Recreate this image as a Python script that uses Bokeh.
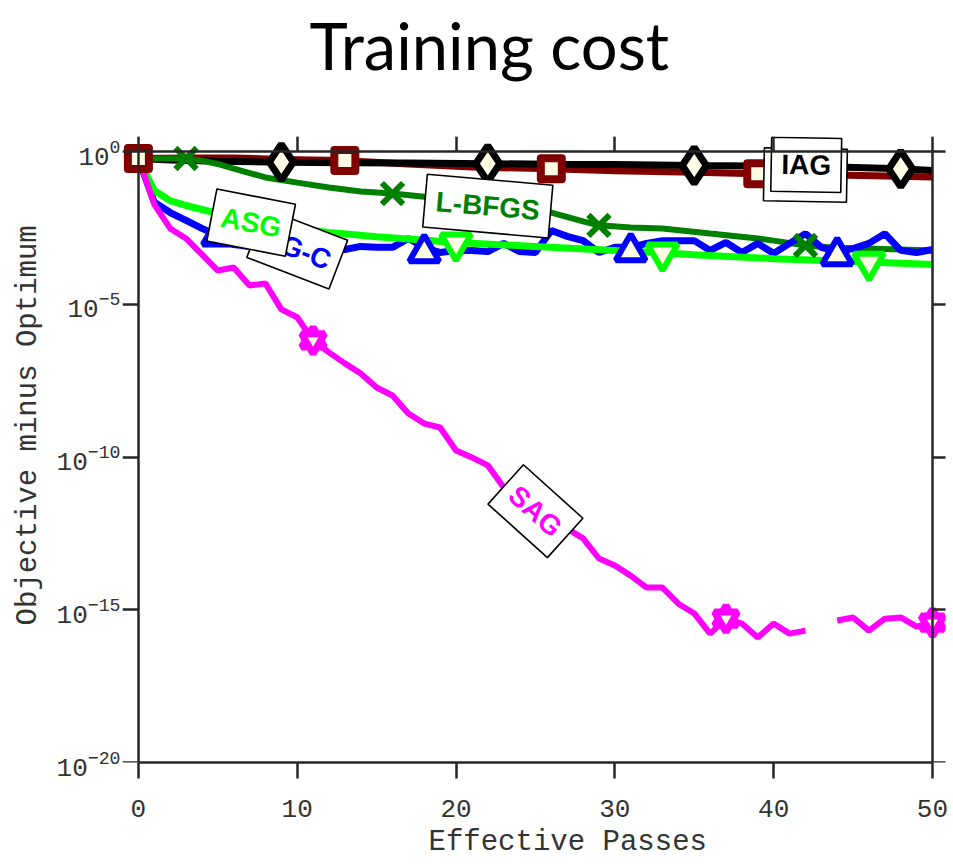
import numpy as np
from bokeh.plotting import figure
from bokeh.models import (Range1d, LinearAxis, LogAxis, FixedTicker, Title,
                          ColumnDataSource, CustomJSTickFormatter)
from bokeh.core.properties import value
from bokeh.embed import file_html
from bokeh.resources import INLINE

# ---------------- data (log10 of objective minus optimum) ----------------
passes = list(range(51))

sag_log = [-0.19, -1.72, -2.51, -2.84, -3.36, -3.89, -3.79, -4.38, -4.31, -5.16,
           -5.42, -6.18, -6.57, -6.93, -7.26, -7.72, -7.98, -8.57, -8.90, -9.03,
           -9.78, -10.01, -10.27, -10.99, -11.42, -11.75, -12.08, -12.34, -12.66, -13.32,
           -13.55, -13.88, -14.27, -14.27, -14.80, -15.12, -15.78, -15.29, -15.45, -15.91,
           -15.45, -15.78, -15.68, np.nan, -15.35, -15.25, -15.68, -15.29, -15.25, -15.55,
           -15.42]

sgc_log = [-0.22, -1.65, -1.99, -2.25, -2.51, -2.74, -3.04, -3.10, -3.13, -3.17,
           -3.20, -3.17, -3.20, -3.20, -3.10, -3.13, -3.13, -2.84, -3.13, -3.30,
           -3.23, -3.23, -3.27, -3.00, -3.27, -3.30, -2.58, -2.77, -2.91, -3.30,
           -3.13, -3.13, -3.00, -2.91, -2.91, -2.91, -3.23, -2.97, -3.30, -3.00,
           -3.33, -3.00, -2.68, -3.13, -3.27, -3.17, -3.00, -2.68, -3.23, -3.30,
           -3.20]

asg_x = [0, 1, 2, 3, 4, 5, 6, 7, 8, 10, 12, 15, 20, 25, 30, 33, 35, 40, 46, 50]
asg_log = [-0.22, -1.27, -1.60, -1.76, -1.89, -2.02, -2.15, -2.25, -2.35, -2.51,
           -2.64, -2.78, -2.97, -3.10, -3.23, -3.31, -3.37, -3.50, -3.61, -3.69]

lbfgs_x = [0, 3, 4, 5, 6, 8, 10, 12, 14, 16, 18, 20, 22, 24, 26, 28, 29, 31, 33,
           36, 39, 40, 42, 44, 48, 50]
lbfgs_log = [-0.22, -0.22, -0.29, -0.40, -0.55, -0.84, -1.01, -1.17, -1.30, -1.37,
             -1.47, -1.60, -1.73, -1.86, -1.99, -2.28, -2.41, -2.48, -2.51,
             -2.68, -2.84, -2.91, -3.07, -3.14, -3.20, -3.23]

iag_x = [0, 2, 5, 9, 13, 17, 22, 26, 30, 35, 39, 44, 48, 50]
iag_log = [-0.22, -0.27, -0.31, -0.34, -0.36, -0.37, -0.39, -0.41, -0.42, -0.45,
           -0.47, -0.50, -0.56, -0.61]

afg_x = [0, 3, 6, 9, 13, 17, 21, 26, 30, 35, 39, 44, 50]
afg_log = [-0.22, -0.20, -0.20, -0.25, -0.29, -0.40, -0.50, -0.56, -0.62, -0.67,
           -0.72, -0.76, -0.83]

# marker positions
afg_mk_x, afg_mk_log = [0, 13, 26, 39], [-0.22, -0.29, -0.56, -0.72]
lbfgs_mk_x, lbfgs_mk_log = [3, 16, 29, 42], [-0.22, -1.37, -2.41, -3.07]
sgc_mk_x, sgc_mk_log = [5, 18, 31, 44], [-2.75, -3.30, -3.27, -3.40]
asg_mk_x, asg_mk_log = [7, 20, 33, 46], [-2.25, -2.99, -3.32, -3.62]
iag_mk_x, iag_mk_log = [9, 22, 35, 48], [-0.34, -0.39, -0.45, -0.56]
sag_mk_x, sag_mk_log = [11, 24, 37, 50], [-6.18, -11.42, -15.29, -15.42]

x_ticks = [0, 10, 20, 30, 40, 50]
y_ticks = [1e-20, 1e-15, 1e-10, 1e-5, 1e0]

# in-plot labels (text, x, log10 y, box w/h px, angle deg, colour)
lab_text = ["SG-C", "ASG", "L-BFGS", "SAG", "", "IAG"]
lab_x = [10.0, 7.1, 22.0, 25.0, 42.0, 42.05]
lab_log = [-3.18, -2.32, -1.78, -11.77, -0.76, -0.43]
lab_w = [88, 80, 126, 80, 83, 70]
lab_h = [52, 53, 53, 53, 53, 54]
lab_ang = [-21, -11, -5, -42, -1, -1]
lab_col = ["#0000ff", "#00ff00", "#008000", "#ff00ff", "#000000", "#000000"]

# ---------------- styling ----------------
AX = "#262626"
TXT = "#333333"
CREAM = "#fffde4"
MONO = "Liberation Mono"


def p10(v):
    return [10.0 ** t for t in v]


p = figure(width=953, height=864, x_range=Range1d(-1, 50.82),
           y_range=Range1d(1e-20, 10 ** 0.5), y_axis_type="log",
           x_axis_location=None, y_axis_location=None,
           output_backend="svg", toolbar_location=None,
           min_border_left=122, min_border_right=8,
           min_border_top=136, min_border_bottom=102)
p.outline_line_color = None
p.grid.visible = False
p.background_fill_color = "white"
p.border_fill_color = "white"

blank = "return ''"
line_style = dict(axis_line_color=AX, axis_line_width=2.5,
                  major_tick_line_color=AX, major_tick_line_width=2.5,
                  minor_tick_line_color=None)
no_labels = dict(major_label_text_font_size="0px", major_label_standoff=0)

# y tick labels (natural left axis, no line / ticks)
ylab = LogAxis(ticker=FixedTicker(ticks=y_ticks), axis_line_color=None,
               major_tick_line_color=None, minor_tick_line_color=None,
               major_tick_in=0, major_tick_out=0, major_label_standoff=2,
               major_label_text_font=MONO, major_label_text_font_size="26px",
               major_label_text_color=TXT)
p.add_layout(ylab, "left")

# left box edge at x = 0 (ticks pointing left)
lefte = LogAxis(fixed_location=0, bounds=(1e-20, 1),
                ticker=FixedTicker(ticks=y_ticks),
                formatter=CustomJSTickFormatter(code=blank),
                major_tick_in=16, major_tick_out=0, **line_style, **no_labels)
p.add_layout(lefte, "right")

# right box edge at x = 50 (ticks pointing right)
righte = LogAxis(fixed_location=50, bounds=(1e-20, 1),
                 ticker=FixedTicker(ticks=y_ticks),
                 formatter=CustomJSTickFormatter(code=blank),
                 major_tick_in=16, major_tick_out=0, **line_style, **no_labels)
p.add_layout(righte, "left")

# bottom axis with labels
bottom = LinearAxis(bounds=(0, 50), ticker=FixedTicker(ticks=x_ticks),
                    major_tick_in=0, major_tick_out=16, major_label_standoff=21,
                    major_label_text_font=MONO, major_label_text_font_size="26px",
                    major_label_text_color=TXT, **line_style)
p.add_layout(bottom, "below")

# top box edge at y = 1 (ticks pointing up)
tope = LinearAxis(fixed_location=1.0, bounds=(0, 50),
                  ticker=FixedTicker(ticks=x_ticks),
                  formatter=CustomJSTickFormatter(code=blank),
                  major_tick_in=0, major_tick_out=16, **line_style, **no_labels)
p.add_layout(tope, "above")

# invisible spacer between frame and title
spacer = LinearAxis(ticker=FixedTicker(ticks=x_ticks),
                    formatter=CustomJSTickFormatter(code=blank),
                    axis_line_color=None, major_tick_line_color="white",
                    major_tick_line_width=1, minor_tick_line_color=None,
                    major_tick_in=0, major_tick_out=53, **no_labels)
p.add_layout(spacer, "above")

# ---------------- lines ----------------
p.line(afg_x, p10(afg_log), line_color="#800000", line_width=7)
p.line(iag_x, p10(iag_log), line_color="#000000", line_width=7)
p.line(lbfgs_x, p10(lbfgs_log), line_color="#008000", line_width=6)
p.line(passes, p10(sgc_log), line_color="#0000ff", line_width=7)
p.line(asg_x, p10(asg_log), line_color="#00ff00", line_width=7)
p.line(passes, p10(sag_log), line_color="#ff00ff", line_width=6)

# ---------------- markers ----------------
p.scatter(lbfgs_mk_x, p10(lbfgs_mk_log), marker="x", size=30,
          line_color="#008000", line_width=6)
p.scatter(sgc_mk_x, p10(sgc_mk_log), marker="triangle", size=30,
          line_color="#0000ff", fill_color=CREAM, line_width=6)
p.scatter(asg_mk_x, p10(asg_mk_log), marker="inverted_triangle", size=30,
          line_color="#00ff00", fill_color=CREAM, line_width=6)
p.scatter(iag_mk_x, p10(iag_mk_log), marker="diamond", size=36,
          line_color="#000000", fill_color=CREAM, line_width=7)
for mk in ("triangle", "inverted_triangle"):
    p.scatter(sag_mk_x, p10(sag_mk_log), marker=mk, size=23,
              line_color="#ff00ff", fill_color=CREAM, line_width=7)
p.scatter(afg_mk_x, p10(afg_mk_log), marker="square", size=21,
          line_color="#800000", fill_color=CREAM, line_width=8,
          line_join="round")

# ---------------- in-plot label boxes ----------------
for t, x, ly, w, h, a, c in zip(lab_text, lab_x, lab_log, lab_w, lab_h,
                                lab_ang, lab_col):
    src = ColumnDataSource(dict(x=[x], y=[10.0 ** ly], t=[t]))
    p.rect(x="x", y="y", width=w, height=h, angle=np.deg2rad(a),
           width_units="screen", height_units="screen", source=src,
           fill_color="white", line_color="black", line_width=1.6)
    if t:
        p.text(x="x", y="y", text="t", angle=np.deg2rad(a), source=src,
               text_font=value("Liberation Sans"), text_font_size="28px",
               text_font_style="bold", text_color=c,
               text_align="center", text_baseline="middle")

# ---------------- titles ----------------
p.add_layout(Title(text="Training cost", align="left", offset=187,
                   standoff=0, text_font="Lato", text_font_size="65px",
                   text_font_style="normal", text_color="black"), "above")
p.add_layout(Title(text="Objective minus Optimum", align="left", offset=137,
                   standoff=17, text_font=MONO, text_font_size="29px",
                   text_font_style="normal", text_color=TXT), "left")
p.add_layout(Title(text="Effective Passes", align="left", offset=306,
                   standoff=8, text_font=MONO, text_font_size="29px",
                   text_font_style="normal", text_color=TXT), "below")

open("out.html", "w").write(file_html(p, INLINE))
